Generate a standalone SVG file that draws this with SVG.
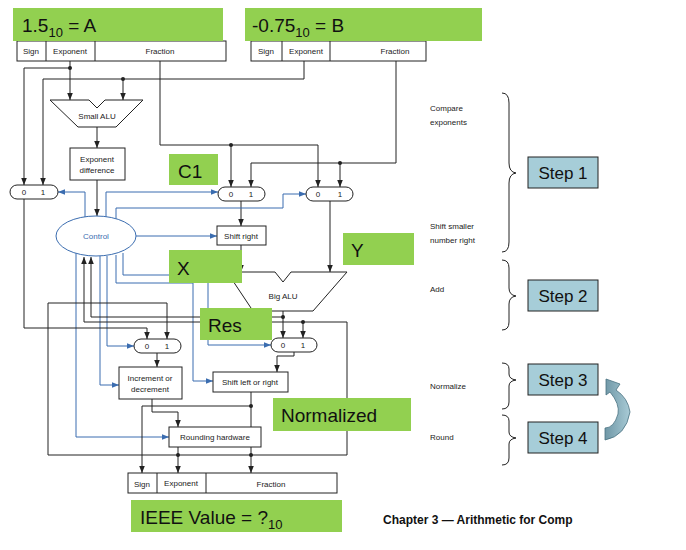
<svg xmlns="http://www.w3.org/2000/svg" width="686" height="550" viewBox="0 0 686 550">
<style>
.k{fill:none;stroke:#222;stroke-width:1}
.b{fill:none;stroke:#3b6db0;stroke-width:1}
.box{fill:#fff;stroke:#222;stroke-width:1}
.t{font-family:"Liberation Sans",Arial,sans-serif;font-size:8px;fill:#222;text-anchor:middle}
.tl{font-family:"Liberation Sans",Arial,sans-serif;font-size:8px;fill:#222}
.g{fill:#92d050}
.gt{font-family:"Liberation Sans",Arial,sans-serif;font-size:19px;fill:#111}
.st{fill:#a6cdd8;stroke:#222;stroke-width:1}
.stt{font-family:"Liberation Sans",Arial,sans-serif;font-size:17px;fill:#111;text-anchor:middle}
.br{fill:none;stroke:#222;stroke-width:1}
</style>
<defs>
<marker id="ak" viewBox="0 0 10 10" refX="10" refY="5" markerWidth="7" markerHeight="7" orient="auto-start-reverse"><path d="M0,1 L10,5 L0,9 z" fill="#222"/></marker>
<marker id="ab" viewBox="0 0 10 10" refX="10" refY="5" markerWidth="7" markerHeight="7" orient="auto"><path d="M0,1 L10,5 L0,9 z" fill="#3b6db0"/></marker>
<linearGradient id="cg" x1="0" y1="0" x2="1" y2="0"><stop offset="0" stop-color="#6f97a6"/><stop offset="1" stop-color="#a9cbd6"/></linearGradient>
</defs>

<g id="connectors">
<!-- A exponent -->
<path class="k" d="M70,61 V68 H24 V185" marker-end="url(#ak)"/>
<path class="k" d="M70,68 V100" marker-end="url(#ak)"/>
<circle cx="70" cy="68" r="2" fill="#222"/>
<!-- B exponent -->
<path class="k" d="M304,61 V79 H43 V185" marker-end="url(#ak)"/>
<path class="k" d="M123,79 V100" marker-end="url(#ak)"/>
<circle cx="123" cy="79" r="2" fill="#222"/>
<path class="k" d="M97,127 V148" marker-end="url(#ak)"/>
<path class="k" d="M97,180 V216" marker-end="url(#ak)"/>
<!-- A fraction -->
<path class="k" d="M160,61 V145 H318 V187" marker-end="url(#ak)"/>
<path class="k" d="M231,145 V187" marker-end="url(#ak)"/>
<circle cx="231" cy="145" r="2" fill="#222"/>
<!-- B fraction -->
<path class="k" d="M396,61 V163 H251 V187" marker-end="url(#ak)"/>
<path class="k" d="M340,163 V187" marker-end="url(#ak)"/>
<circle cx="340" cy="163" r="2" fill="#222"/>
<path class="k" d="M241,201 V226" marker-end="url(#ak)"/>
<path class="k" d="M241,245 V272" marker-end="url(#ak)"/>
<path class="k" d="M330,201 V272" marker-end="url(#ak)"/>
<!-- control lines -->
<path class="b" d="M85,219 V192 H58" marker-end="url(#ab)"/>
<path class="b" d="M106,217 V192 H218" marker-end="url(#ab)"/>
<path class="b" d="M116,219 V208 H283 V194 H306" marker-end="url(#ab)"/>
<path class="b" d="M136,236 H217" marker-end="url(#ab)"/>
<path class="b" d="M76,253 V437 H169" marker-end="url(#ab)"/>
<path class="b" d="M100,256 V385 H119" marker-end="url(#ab)"/>
<path class="b" d="M107,256 V346 H134" marker-end="url(#ab)"/>
<path class="b" d="M116,255 V283 H193 V381 H213" marker-end="url(#ab)"/>
<path class="b" d="M123,253 V275 H208 V345 H271" marker-end="url(#ab)"/>
<!-- big ALU output -->
<path class="k" d="M283,311 V338" marker-end="url(#ak)"/>
<path class="k" d="M283,317 H91 V257" marker-end="url(#ak)"/>
<circle cx="283" cy="317" r="2" fill="#222"/>
<path class="k" d="M303,322 V338" marker-end="url(#ak)"/>
<path class="k" d="M347,322 H84 V257" marker-end="url(#ak)"/>
<circle cx="303" cy="322" r="2" fill="#222"/>
<path class="k" d="M347,322 V455 H48 V303 H167 V339" marker-end="url(#ak)"/>
<path class="k" d="M24,199 V328 H147 V339" marker-end="url(#ak)"/>
<path class="k" d="M157,353 V367" marker-end="url(#ak)"/>
<path class="k" d="M294,352 V356 H277 V372" marker-end="url(#ak)"/>
<path class="k" d="M152,399 V412 H178 V427" marker-end="url(#ak)"/>
<path class="k" d="M251,392 V427"/>
<path class="k" d="M251,406 H142 V473" marker-end="url(#ak)"/>
<circle cx="251" cy="406" r="2" fill="#222"/>
<path class="k" d="M178,447 V473" marker-end="url(#ak)"/>
<circle cx="178" cy="455" r="2" fill="#222"/>
<path class="k" d="M251,447 V473" marker-end="url(#ak)"/>
<circle cx="251" cy="455" r="2" fill="#222"/>
</g>

<g id="regA">
<rect class="box" x="17" y="41" width="209" height="20"/>
<line class="k" x1="46" y1="41" x2="46" y2="61"/><line class="k" x1="95" y1="41" x2="95" y2="61"/>
<text class="t" x="31" y="54">Sign</text><text class="t" x="70" y="54">Exponent</text><text class="t" x="160" y="54">Fraction</text>
</g>
<g id="regB">
<rect class="box" x="251" y="41" width="175" height="20"/>
<line class="k" x1="282" y1="41" x2="282" y2="61"/><line class="k" x1="330" y1="41" x2="330" y2="61"/>
<text class="t" x="266" y="54">Sign</text><text class="t" x="306" y="54">Exponent</text><text class="t" x="395" y="54">Fraction</text>
</g>
<g id="smallALU">
<path class="box" d="M50,100 H89 L97,108 L105,100 H143 L116,127 H78 Z"/>
<text class="t" x="97" y="119">Small ALU</text>
</g>
<g id="expdiff">
<rect class="box" x="70" y="148" width="55" height="32"/>
<text class="t" x="97" y="162">Exponent</text><text class="t" x="97" y="173">difference</text>
</g>
<g id="control">
<ellipse cx="96" cy="236" rx="40" ry="20" fill="#fff" stroke="#3b6db0"/>
<text class="t" x="96" y="239" style="fill:#3b6db0">Control</text>
</g>
<g id="mux1"><rect class="box" x="10" y="185" width="48" height="14" rx="7"/><text class="t" x="24" y="195">0</text><text class="t" x="43" y="195">1</text></g>
<g id="mux2"><rect class="box" x="218" y="187" width="47" height="14" rx="7"/><text class="t" x="231" y="197">0</text><text class="t" x="251" y="197">1</text></g>
<g id="mux3"><rect class="box" x="306" y="187" width="47" height="14" rx="7"/><text class="t" x="318" y="197">0</text><text class="t" x="340" y="197">1</text></g>
<g id="mux4"><rect class="box" x="134" y="339" width="47" height="14" rx="7"/><text class="t" x="147" y="349">0</text><text class="t" x="167" y="349">1</text></g>
<g id="mux5"><rect class="box" x="271" y="338" width="46" height="14" rx="7"/><text class="t" x="283" y="348">0</text><text class="t" x="303" y="348">1</text></g>
<g id="shiftright"><rect class="box" x="217" y="226" width="49" height="19"/><text class="t" x="241" y="239">Shift right</text></g>
<g id="bigALU">
<path class="box" d="M227,272 H275 L283,282 L291,272 H347 L313,311 H253 Z"/>
<text class="t" x="283" y="299">Big ALU</text>
</g>
<g id="incdec"><rect class="box" x="119" y="367" width="63" height="32"/><text class="t" x="150" y="381">Increment or</text><text class="t" x="150" y="392">decrement</text></g>
<g id="shiftlr"><rect class="box" x="213" y="372" width="75" height="20"/><text class="t" x="250" y="385">Shift left or right</text></g>
<g id="round"><rect class="box" x="169" y="427" width="92" height="20"/><text class="t" x="215" y="440">Rounding hardware</text></g>
<g id="regOut">
<rect class="box" x="128" y="473" width="209" height="20"/>
<line class="k" x1="157" y1="473" x2="157" y2="493"/><line class="k" x1="206" y1="473" x2="206" y2="493"/>
<text class="t" x="142" y="487">Sign</text><text class="t" x="181" y="486">Exponent</text><text class="t" x="271" y="487">Fraction</text>
</g>

<g id="labels">
<rect class="g" x="13" y="8" width="210" height="33"/>
<text class="gt" x="22" y="32">1.5<tspan font-size="13" dy="5">10</tspan><tspan dy="-5"> =  A</tspan></text>
<rect class="g" x="245" y="8" width="237" height="33"/>
<text class="gt" x="252" y="32">-0.75<tspan font-size="13" dy="5">10</tspan><tspan dy="-5"> = B</tspan></text>
<rect class="g" x="169" y="154" width="49" height="31"/><text class="gt" x="178" y="178">C1</text>
<rect class="g" x="169" y="250" width="73" height="33"/><text class="gt" x="177" y="275">X</text>
<rect class="g" x="343" y="233" width="71" height="32"/><text class="gt" x="351" y="257">Y</text>
<rect class="g" x="200" y="308" width="72" height="32"/><text class="gt" x="208" y="332">Res</text>
<rect class="g" x="273" y="398" width="138" height="33"/><text class="gt" x="281" y="422">Normalized</text>
<rect class="g" x="131" y="500" width="211" height="32"/>
<text class="gt" x="140" y="524">IEEE Value = ?<tspan font-size="13" dy="5">10</tspan></text>
<text x="383" y="524" style="font-family:'Liberation Sans',Arial,sans-serif;font-size:12px;font-weight:bold;fill:#111">Chapter 3 — Arithmetic for Comp</text>
</g>

<g id="steps">
<text class="tl" x="430" y="111">Compare</text><text class="tl" x="430" y="125">exponents</text>
<text class="tl" x="430" y="229">Shift smaller</text><text class="tl" x="430" y="243">number right</text>
<text class="tl" x="430" y="292">Add</text>
<text class="tl" x="430" y="389">Normalize</text>
<text class="tl" x="430" y="440">Round</text>
<path class="br" d="M502,93 Q509,93 509,103 V163 Q509,172 516,173 Q509,174 509,183 V242 Q509,252 502,252"/>
<path class="br" d="M502,260 Q509,260 509,268 V288 Q509,295 516,296 Q509,297 509,304 V322 Q509,330 502,330"/>
<path class="br" d="M502,363 Q509,363 509,369 V374 Q509,379 516,380 Q509,381 509,386 V402 Q509,409 502,409"/>
<path class="br" d="M502,415 Q509,415 509,421 V432 Q509,437 516,438 Q509,439 509,444 V458 Q509,465 502,465"/>
<rect class="st" x="528" y="157" width="70" height="31"/><text class="stt" x="563" y="179">Step 1</text>
<rect class="st" x="528" y="280" width="70" height="31"/><text class="stt" x="563" y="302">Step 2</text>
<rect class="st" x="528" y="364" width="70" height="31"/><text class="stt" x="563" y="386">Step 3</text>
<rect class="st" x="528" y="422" width="70" height="31"/><text class="stt" x="563" y="444">Step 4</text>
<path d="M605,440 Q626,436 630,412 Q628,398 616,390 L620,384 L606,379 L606,395 L610,392 Q620,404 618,414 Q614,428 605,428 Z" fill="url(#cg)" stroke="#4a7282" stroke-width="0.8"/>
</g>
</svg>
